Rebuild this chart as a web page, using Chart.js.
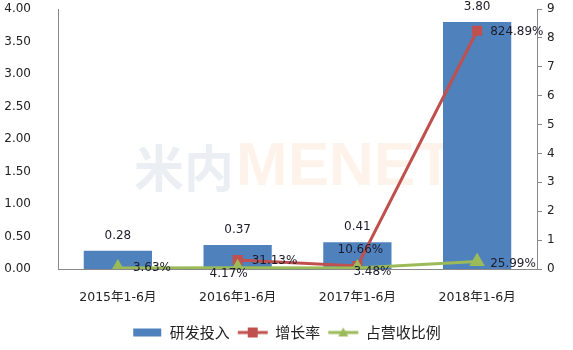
<!DOCTYPE html>
<html lang="zh">
  <head>
    <meta charset="UTF-8" />
    <title>研发投入</title>
    <script src="https://cdn.jsdelivr.net/npm/chart.js"></script>
    <style>
      html, body { margin: 0; padding: 0; background: #fff; }
      #wrap { width: 573px; height: 350px; }
    </style>
  </head>
  <body>
    <div id="wrap"><canvas id="chart"></canvas></div>
    <script>
      const categories = ["2015年1-6月", "2016年1-6月", "2017年1-6月", "2018年1-6月"];
      const rdInvestment = [0.28, 0.37, 0.41, 3.8];
      const growthRate = [null, 0.3113, 0.1066, 8.2489];
      const revenueShare = [0.0363, 0.0417, 0.0348, 0.2599];
      const leftTicks = [0, 0.5, 1, 1.5, 2, 2.5, 3, 3.5, 4];
      const rightTicks = [0, 1, 2, 3, 4, 5, 6, 7, 8, 9];

      const FONT = "'DejaVu Sans', 'Noto Sans CJK SC', sans-serif";
      const CJK = "'Noto Sans CJK SC', sans-serif";
      const BLUE = "#4f81bd";
      const RED = "#c0504d";
      const GREEN = "#9bbb59";

      // label placement next to points: [dx, dy, align]
      const growthPlace = [null, [14, 1, "left"], [3, -16, "center"], [13, 1, "left"]];
      const sharePlace = [[15, 0, "left"], [-9, 6, "center"], [-4, 4, "left"], [13, 2, "left"]];

      function legendIcon(kind, color) {
        const c = document.createElement("canvas");
        c.width = 32; c.height = 12;
        const g = c.getContext("2d");
        if (kind === "bar") {
          g.fillStyle = color;
          g.fillRect(2, 2, 28, 8);
          return c;
        }
        g.strokeStyle = color; g.lineWidth = 3;
        g.beginPath(); g.moveTo(1, 6); g.lineTo(31, 6); g.stroke();
        g.fillStyle = color;
        if (kind === "square") {
          g.fillRect(11, 1, 10, 10);
        } else {
          g.beginPath(); g.moveTo(16, 1); g.lineTo(21, 10); g.lineTo(11, 10); g.closePath(); g.fill();
        }
        return c;
      }

      const watermark = {
        id: "watermark",
        beforeDatasetsDraw(chart) {
          const ctx = chart.ctx;
          ctx.save();
          ctx.textBaseline = "middle";
          ctx.font = "bold 50px " + CJK;
          ctx.fillStyle = "rgba(205,216,228,0.4)";
          ctx.fillText("米内", 134, 168);
          ctx.fillStyle = "rgba(250,212,180,0.28)";
          ctx.font = "bold 62px 'Liberation Sans', sans-serif";
          ctx.fillText("MENET", 236, 168);
          ctx.restore();
        }
      };

      const valueLabels = {
        id: "valueLabels",
        afterDatasetsDraw(chart) {
          const ctx = chart.ctx;
          ctx.save();
          ctx.font = "12px " + FONT;
          ctx.fillStyle = "#1c1c2c";
          ctx.textBaseline = "middle";
          // bar labels
          chart.getDatasetMeta(2).data.forEach((el, i) => {
            ctx.textAlign = "center";
            ctx.fillText(rdInvestment[i].toFixed(2), el.x, el.y - 15);
          });
          const put = (meta, values, place) => {
            meta.data.forEach((el, i) => {
              if (values[i] === null || !place[i]) return;
              const [dx, dy, al] = place[i];
              ctx.textAlign = al;
              ctx.fillText((values[i] * 100).toFixed(2) + "%", el.x + dx, el.y + dy);
            });
          };
          put(chart.getDatasetMeta(0), growthRate, growthPlace);
          put(chart.getDatasetMeta(1), revenueShare, sharePlace);
          ctx.restore();
        }
      };

      const trimPad = s => { s.paddingTop = 7; s.paddingBottom = 7; };

      new Chart(document.getElementById("chart"), {
        data: {
          labels: categories,
          datasets: [
            {
              type: "line",
              label: "增长率",
              data: growthRate,
              yAxisID: "y1",
              borderColor: RED,
              backgroundColor: RED,
              borderWidth: 3,
              pointStyle: "rect",
              pointRadius: 5,
              tension: 0,
              order: 1
            },
            {
              type: "line",
              label: "占营收比例",
              data: revenueShare,
              yAxisID: "y1",
              borderColor: GREEN,
              backgroundColor: GREEN,
              borderWidth: 3,
              pointStyle: "triangle",
              pointRadius: 6,
              tension: 0,
              order: 0
            },
            {
              type: "bar",
              label: "研发投入",
              data: rdInvestment,
              yAxisID: "y",
              backgroundColor: BLUE,
              barPercentage: 0.57,
              categoryPercentage: 1,
              order: 2
            }
          ]
        },
        options: {
          responsive: true,
          maintainAspectRatio: false,
          animation: false,
          layout: { padding: { top: 3, right: 0, left: 0, bottom: 0 } },
          plugins: {
            tooltip: { enabled: false },
            legend: {
              position: "bottom",
              labels: {
                usePointStyle: true,
                pointStyleWidth: 30,
                padding: 8,
                color: "#222",
                font: { size: 15, family: CJK },
                sort: (a, b) => [2, 0, 1].indexOf(a.datasetIndex) - [2, 0, 1].indexOf(b.datasetIndex),
                generateLabels(chart) {
                  const icons = [legendIcon("square", RED), legendIcon("tri", GREEN), legendIcon("bar", BLUE)];
                  return chart.data.datasets.map((ds, i) => ({
                    text: ds.label,
                    datasetIndex: i,
                    pointStyle: icons[i],
                    fontColor: "#222",
                    lineWidth: 0,
                    strokeStyle: "transparent",
                    fillStyle: "transparent"
                  }));
                }
              }
            }
          },
          scales: {
            x: {
              afterFit(s) { s.height = 48; },
              grid: { display: false },
              border: { color: "#888" },
              ticks: { color: "#222", font: { size: 12.5, family: FONT }, padding: 13 }
            },
            y: {
              position: "left",
              min: 0,
              max: 4,
              afterBuildTicks(s) { s.ticks = leftTicks.map(v => ({ value: v })); },
              afterFit(s) { s.width = 58; trimPad(s); },
              grid: { display: false },
              border: { color: "#888" },
              ticks: {
                color: "#222",
                font: { size: 12, family: FONT },
                padding: 19,
                callback: v => Number(v).toFixed(2)
              }
            },
            y1: {
              position: "right",
              min: 0,
              max: 9,
              afterBuildTicks(s) { s.ticks = rightTicks.map(v => ({ value: v })); },
              afterFit(s) { s.width = 36; trimPad(s); },
              grid: { drawOnChartArea: false, tickLength: 5, color: "#888" },
              border: { color: "#888" },
              ticks: { color: "#222", font: { size: 12, family: FONT }, padding: 5 }
            }
          }
        },
        plugins: [watermark, valueLabels]
      });
    </script>
  </body>
</html>
